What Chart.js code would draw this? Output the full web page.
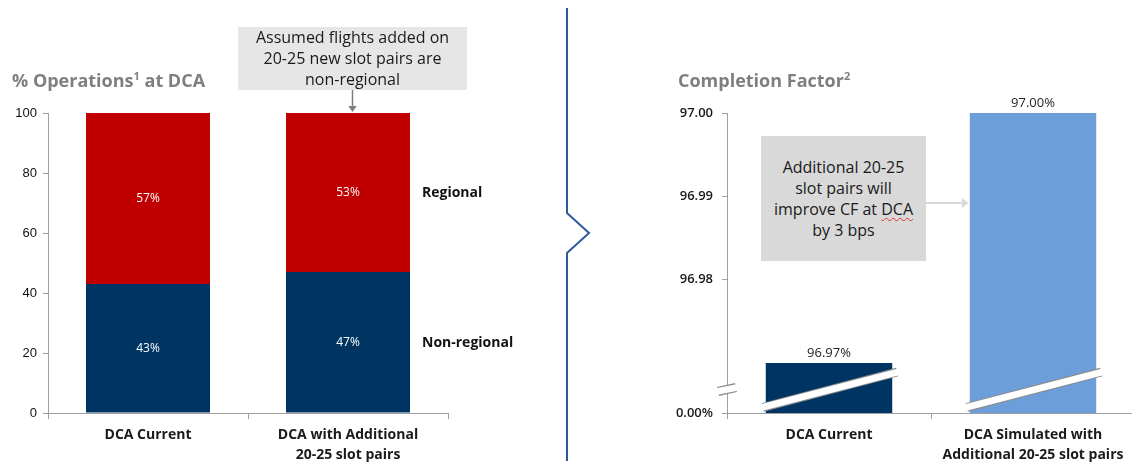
<!DOCTYPE html>
<html>
<head>
<meta charset="utf-8">
<script src="https://cdn.jsdelivr.net/npm/chart.js@4.4.0/dist/chart.umd.min.js"></script>
<style>
  html, body { margin: 0; padding: 0; width: 1132px; height: 466px; overflow: hidden; background: #fff; }
  body { position: relative; font-family: 'Open Sans', sans-serif; }
  .panel { position: absolute; top: 0; width: 560px; height: 466px; }
  #opsPanel { left: 0; }
  #cfPanel { left: 580px; }
  .title { position: absolute; top: 68px; font-weight: bold; font-size: 18px; color: #7f7f7f; white-space: nowrap; line-height: 24px; }
  .title sup { font-size: 11px; vertical-align: 7px; line-height: 0; }
  .note { position: absolute; background: #e6e6e6; color: #1a1a1a; font-size: 16px; line-height: 21px;
          text-align: center; display: flex; align-items: center; justify-content: center; }
  .note.dark { background: #d9d9d9; }
  .note .typo { text-decoration: underline wavy #e03030; text-decoration-thickness: 1px; text-underline-offset: 2px; }
  svg.divider { position: absolute; left: 0; top: 0; }
</style>
</head>
<body>
<div class="panel" id="opsPanel"><canvas id="opsChart" width="560" height="466"></canvas></div>
<div class="panel" id="cfPanel"><canvas id="cfChart" width="560" height="466"></canvas></div>

<div class="title" style="left:12px">% Operations<sup>1</sup> at DCA</div>
<div class="title" style="left:678px">Completion Factor<sup>2</sup></div>

<div class="note" style="left:238px; top:27px; width:229px; height:63px">
  <div>Assumed flights added on<br>20-25 new slot pairs are<br>non-regional</div>
</div>
<div class="note dark" style="left:761px; top:136px; width:165px; height:125px">
  <div>Additional 20-25<br>slot pairs will<br>improve CF at <span class="typo">DCA</span><br>by 3 bps</div>
</div>

<svg class="divider" width="1132" height="466">
  <polyline points="567,8 567,213 589,233 567,253 567,461" fill="none" stroke="#2f5a9a" stroke-width="2"/>
</svg>

<script>
// share of operations at DCA
const opsCategories = ['DCA Current', ['DCA with Additional', '20-25 slot pairs']];
const nonRegional = [43, 47];
const regional = [57, 53];

// completion factor (axis is broken below 96.97)
const cfCategories = ['DCA Current', ['DCA Simulated with', 'Additional 20-25 slot pairs']];
const completionFactor = [96.97, 97.00];
const cfTickValues = [96.98, 96.99, 97.00];
const cfAxisFloor = 96.964;
const cfFloorLabel = '0.00%';

const NAVY = '#003462';
const RED = '#c00000';
const LIGHT_BLUE = '#6c9ed9';
const AXIS_GREY = '#a0a0a0';

function arrowHead(ctx, x, y, dir, size) {
  // dir: 'down' or 'right'
  ctx.beginPath();
  if (dir === 'down') {
    ctx.moveTo(x, y);
    ctx.lineTo(x - size * 0.7, y - size);
    ctx.lineTo(x + size * 0.7, y - size);
  } else {
    ctx.moveTo(x, y);
    ctx.lineTo(x - size, y - size * 0.7);
    ctx.lineTo(x - size, y + size * 0.7);
  }
  ctx.closePath();
  ctx.fill();
}

const segmentLabels = {
  id: 'segmentLabels',
  afterDatasetsDraw(chart) {
    const ctx = chart.ctx;
    ctx.save();
    chart.data.datasets.forEach((ds, i) => {
      const meta = chart.getDatasetMeta(i);
      ctx.font = '12px "Open Sans"';
      ctx.fillStyle = '#fff';
      ctx.textAlign = 'center';
      ctx.textBaseline = 'middle';
      meta.data.forEach((bar, j) => {
        ctx.fillText(ds.data[j] + '%', bar.x, (bar.y + bar.base) / 2);
      });
      // series name next to the last bar
      const last = meta.data[meta.data.length - 1];
      ctx.font = 'bold 14px "Open Sans"';
      ctx.fillStyle = '#111';
      ctx.textAlign = 'left';
      ctx.fillText(ds.label, last.x + last.width / 2 + 12, (last.y + last.base) / 2 + 1);
    });

    // pointer from the note down to the second bar
    const topBar = chart.getDatasetMeta(1).data[1];
    const ax = 352.5;
    ctx.strokeStyle = '#7f7f7f';
    ctx.fillStyle = '#7f7f7f';
    ctx.lineWidth = 1.5;
    ctx.beginPath();
    ctx.moveTo(ax, 90);
    ctx.lineTo(ax, topBar.y - 6);
    ctx.stroke();
    arrowHead(ctx, ax, topBar.y - 1, 'down', 6);
    ctx.restore();
  }
};

const breakMarks = {
  id: 'breakMarks',
  afterDatasetsDraw(chart) {
    const ctx = chart.ctx;
    const area = chart.chartArea;
    const floor = area.bottom;
    ctx.save();
    ctx.lineCap = 'butt';
    const slash = (x1, y1, x2, y2) => {
      ctx.strokeStyle = '#8c8c8c';
      ctx.lineWidth = 9;
      ctx.beginPath(); ctx.moveTo(x1, y1); ctx.lineTo(x2, y2); ctx.stroke();
      ctx.strokeStyle = '#fff';
      ctx.lineWidth = 6.5;
      ctx.beginPath(); ctx.moveTo(x1 - 1, y1); ctx.lineTo(x2 + 1, y2); ctx.stroke();
    };
    const meta = chart.getDatasetMeta(0);
    meta.data.forEach(bar => {
      const l = bar.x - bar.width / 2;
      const r = bar.x + bar.width / 2;
      slash(l - 3, floor - 5.5, r + 5, floor - 41);
    });
    // break on the value axis
    slash(area.left - 9, floor - 21.5, area.left + 9, floor - 25.5);

    // value labels above the bars
    ctx.font = '13px "Open Sans"';
    ctx.fillStyle = '#222';
    ctx.textAlign = 'center';
    ctx.textBaseline = 'bottom';
    meta.data.forEach((bar, j) => {
      ctx.fillText(completionFactor[j].toFixed(2) + '%', bar.x, bar.y - 3);
    });

    // pointer from the note to the simulated bar
    const target = meta.data[1];
    const tipX = target.x - target.width / 2 - 1;
    const ay = 203;
    ctx.strokeStyle = '#d9d9d9';
    ctx.fillStyle = '#d9d9d9';
    ctx.lineWidth = 2;
    ctx.beginPath();
    ctx.moveTo(926 - 580, ay);
    ctx.lineTo(tipX - 6, ay);
    ctx.stroke();
    arrowHead(ctx, tipX, ay, 'right', 7);
    ctx.restore();
  }
};

const xAxisBase = (labels) => ({
  type: 'category',
  labels: labels,
  grid: { offset: true, drawOnChartArea: false, drawTicks: true, tickLength: 6, color: AXIS_GREY },
  border: { display: true, color: AXIS_GREY },
  ticks: {
    color: '#1a1a1a',
    padding: 6,
    maxRotation: 0,
    autoSkip: false,
    font: { family: 'Open Sans', size: 14, weight: 'bold', lineHeight: 1.45 }
  },
  afterFit: (scale) => { scale.height = 53; }
});

new Chart(document.getElementById('opsChart'), {
  type: 'bar',
  data: {
    labels: opsCategories,
    datasets: [
      { label: 'Non-regional', data: nonRegional, backgroundColor: NAVY },
      { label: 'Regional', data: regional, backgroundColor: RED }
    ]
  },
  options: {
    responsive: false,
    animation: false,
    layout: { padding: { left: 0, right: 112, top: 113, bottom: 0 } },
    datasets: { bar: { categoryPercentage: 1, barPercentage: 0.62 } },
    plugins: { legend: { display: false }, tooltip: { enabled: false } },
    scales: {
      x: Object.assign(xAxisBase(opsCategories), { stacked: true }),
      y: {
        stacked: true,
        min: 0,
        max: 100,
        grid: { drawOnChartArea: false, drawTicks: true, tickLength: 5, color: AXIS_GREY },
        border: { display: true, color: AXIS_GREY },
        ticks: { stepSize: 20, padding: 6, color: '#111', font: { family: 'Liberation Sans', size: 13 } },
        afterFit: (scale) => { scale.width = 48; }
      }
    }
  },
  plugins: [segmentLabels]
});

new Chart(document.getElementById('cfChart'), {
  type: 'bar',
  data: {
    labels: cfCategories,
    datasets: [
      { label: 'Completion Factor', data: completionFactor, backgroundColor: [NAVY, LIGHT_BLUE] }
    ]
  },
  options: {
    responsive: false,
    animation: false,
    layout: { padding: { left: 0, right: 5, top: 113, bottom: 0 } },
    datasets: { bar: { categoryPercentage: 1, barPercentage: 0.62 } },
    plugins: { legend: { display: false }, tooltip: { enabled: false } },
    scales: {
      x: xAxisBase(cfCategories),
      y: {
        min: cfAxisFloor,
        max: 97.00,
        grid: { drawOnChartArea: false, drawTicks: true, tickLength: 5, color: AXIS_GREY },
        border: { display: true, color: AXIS_GREY },
        afterBuildTicks: (scale) => {
          scale.ticks = [cfAxisFloor, ...cfTickValues].map(v => ({ value: v }));
        },
        ticks: {
          padding: 9,
          color: '#1a1a1a',
          font: { family: 'Open Sans', size: 13, weight: '600' },
          callback: (value, index) => index === 0 ? cfFloorLabel : Number(value).toFixed(2)
        },
        afterFit: (scale) => { scale.width = 147; }
      }
    }
  },
  plugins: [breakMarks]
});
</script>
</body>
</html>
